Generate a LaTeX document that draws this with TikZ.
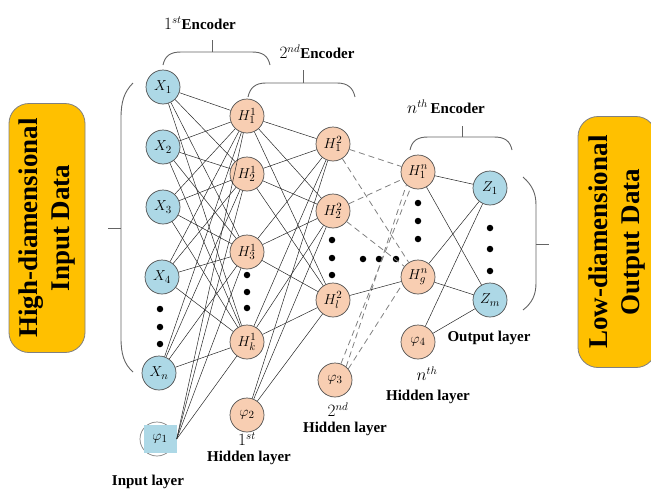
\documentclass[tikz,border=0pt]{standalone}
\usepackage{fontspec}
\setmainfont{Liberation Serif}
\definecolor{nblue}{RGB}{173,216,230}
\definecolor{norange}{RGB}{248,206,178}
\definecolor{ndraw}{RGB}{80,80,80}
\definecolor{boxor}{RGB}{255,192,0}
\definecolor{bracec}{RGB}{100,100,100}
\begin{document}
\begin{tikzpicture}[x=1pt,y=-1pt,
  bnode/.style={circle, draw=ndraw, fill=nblue, minimum size=34pt, inner sep=0pt, line width=0.7pt, font=\fontsize{15}{17}\selectfont},
  onode/.style={bnode, fill=norange},
  conn/.style={draw=black!85, line width=0.5pt},
  dconn/.style={draw=gray, dash pattern=on 6pt off 4pt, line width=0.8pt},
  dotn/.style={circle, fill=black, inner sep=0pt, minimum size=6.5pt},
  brace/.style={draw=bracec, line width=0.9pt},
  lbl/.style={font=\fontsize{15}{17}\selectfont\bfseries, inner sep=0pt},
  sup/.style={font=\fontsize{16}{18}\selectfont, inner sep=0pt},
  databox/.style={rotate=90, rounded corners=20pt, fill=boxor, draw=gray, line width=0.8pt, align=center, font=\fontsize{27}{32}\selectfont\bfseries}
]
\useasboundingbox (0,0) rectangle (651,490);

% data boxes
\node[databox, minimum width=249pt, minimum height=76pt] (inbox) at (47,228) {High-diamensional\\Input Data};
\node[databox, minimum width=251pt, minimum height=78pt] (outbox) at (617,242) {Low-diamensional\\Output Data};

% input layer
\node[bnode] (x1) at (163,87) {$X_1$};
\node[bnode] (x2) at (163,147) {$X_2$};
\node[bnode] (x3) at (163,207) {$X_3$};
\node[bnode] (x4) at (162,277) {$X_4$};
\node[bnode] (xn) at (159,373) {$X_n$};
\node[bnode, fill=none, draw=gray] (p1) at (157,439) {};
\node[fill=nblue, minimum width=33pt, minimum height=28pt, inner sep=0pt, font=\fontsize{15}{17}\selectfont] (p1box) at (160,439) {$\varphi_1$};
\node[dotn] (d1a) at (160,309) {};
\node[dotn] (d1b) at (160,327) {};
\node[dotn] (d1c) at (160,344) {};

% hidden 1
\node[onode] (h11) at (247,116) {$H_1^1$};
\node[onode] (h12) at (247,174) {$H_2^1$};
\node[onode] (h13) at (247,252) {$H_3^1$};
\node[onode] (h1k) at (247,342) {$H_k^1$};
\node[onode] (p2) at (247,415) {$\varphi_2$};
\node[dotn] (d2a) at (247,275) {};
\node[dotn] (d2b) at (247,292) {};
\node[dotn] (d2c) at (247,308) {};

% hidden 2
\node[onode] (h21) at (333,144) {$H_1^2$};
\node[onode] (h22) at (333,211) {$H_2^2$};
\node[onode] (h2l) at (333,300) {$H_l^2$};
\node[onode] (p3) at (335,380) {$\varphi_3$};
\node[dotn] (d3a) at (332,240) {};
\node[dotn] (d3b) at (332,258) {};
\node[dotn] (d3c) at (332,275) {};
\node[dotn] (h1) at (363,259) {};
\node[dotn] (h2) at (379,259) {};
\node[dotn] (h3) at (396,259) {};

% hidden n
\node[onode] (hn1) at (418,172) {$H_1^n$};
\node[onode] (hng) at (418,277) {$H_g^n$};
\node[onode] (p4) at (418,342) {$\varphi_4$};
\node[dotn] (d4a) at (418,203) {};
\node[dotn] (d4b) at (418,221) {};
\node[dotn] (d4c) at (418,239) {};

% output
\node[bnode] (z1) at (490,188) {$Z_1$};
\node[bnode] (zm) at (490,300) {$Z_m$};
\node[dotn] (d5a) at (490,228) {};
\node[dotn] (d5b) at (490,249) {};
\node[dotn] (d5c) at (490,271) {};

% connections
\foreach \a in {x1,x2,x3,x4,xn}
  \foreach \b in {h11,h12,h13,h1k}
    \draw[conn] (\a) -- (\b);
\foreach \b in {h11,h12,h13,h1k}
  \draw[conn] (p1box.east) -- (\b);
\foreach \a in {h11,h12,h13,h1k,p2}
  \foreach \b in {h21,h22,h2l}
    \draw[conn] (\a) -- (\b);
\foreach \a in {h21,h22}
  \foreach \b in {hn1,hng}
    \draw[dconn] (\a) -- (\b);
\draw[dconn] (p3.70) -- (hn1.245);
\draw[dconn] (p3.50) -- (hn1.228);
\draw[dconn] (p3.40) -- (hng.205);
\draw[conn] (h2l) -- (hng);
\foreach \a in {hn1,hng,p4}
  \foreach \b in {z1,zm}
    \draw[conn] (\a) -- (\b);

% braces
\coordinate (lbt) at (108,228);
\draw[brace] (133,83) .. controls (124,92) and (121,102) .. (121,118) -- (121,338) .. controls (121,354) and (124,364) .. (133,372);
\draw[brace] (lbt) -- (121,228);
\draw[brace] (523,177) .. controls (532,185) and (536,193) .. (536,205) -- (536,283) .. controls (536,295) and (532,303) .. (523,310);
\coordinate (rbt) at (549,244);
\draw[brace] (536,244) -- (rbt);

\draw[brace] (163,65) .. controls (165,56) and (170,52) .. (181,52) -- (252,52) .. controls (263,52) and (268,56) .. (270,65);
\coordinate (e1t) at (212,40);
\draw[brace] (212,52) -- (e1t);
\draw[brace] (248,97) .. controls (250,88) and (255,83) .. (266,83) -- (337,83) .. controls (348,83) and (353,88) .. (355,97);
\coordinate (e2t) at (303,70);
\draw[brace] (303,83) -- (e2t);
\draw[brace] (410,150) .. controls (412,141) and (417,137) .. (428,137) -- (494,137) .. controls (505,137) and (510,141) .. (512,150);
\coordinate (ent) at (462,126);
\draw[brace] (462,137) -- (ent);

% labels
\node[lbl] (l1) at (200,23) {\mdseries\fontsize{16}{18}\selectfont$1^{st}$\bfseries\fontsize{15}{17}\selectfont Encoder};
\node[lbl] (l2) at (317,52) {\mdseries\fontsize{16}{18}\selectfont$2^{nd}$\bfseries\fontsize{15}{17}\selectfont Encoder};
\node[lbl] (ln) at (446,107) {\mdseries\fontsize{16}{18}\selectfont$n^{th}$\,\bfseries\fontsize{15}{17}\selectfont Encoder};
\node[lbl] (lin) at (148,482) {Input layer};
\node[sup] (s1) at (247,439) {$1^{st}$};
\node[lbl] (lh1) at (249,458) {Hidden layer};
\node[sup] (s2) at (338,410) {$2^{nd}$};
\node[lbl] (lh2) at (345,429) {Hidden layer};
\node[sup] (sn) at (427,374) {$n^{th}$};
\node[lbl] (lhn) at (428,397) {Hidden layer};
\node[lbl] (lout) at (489,338) {Output layer};
\end{tikzpicture}
\end{document}
